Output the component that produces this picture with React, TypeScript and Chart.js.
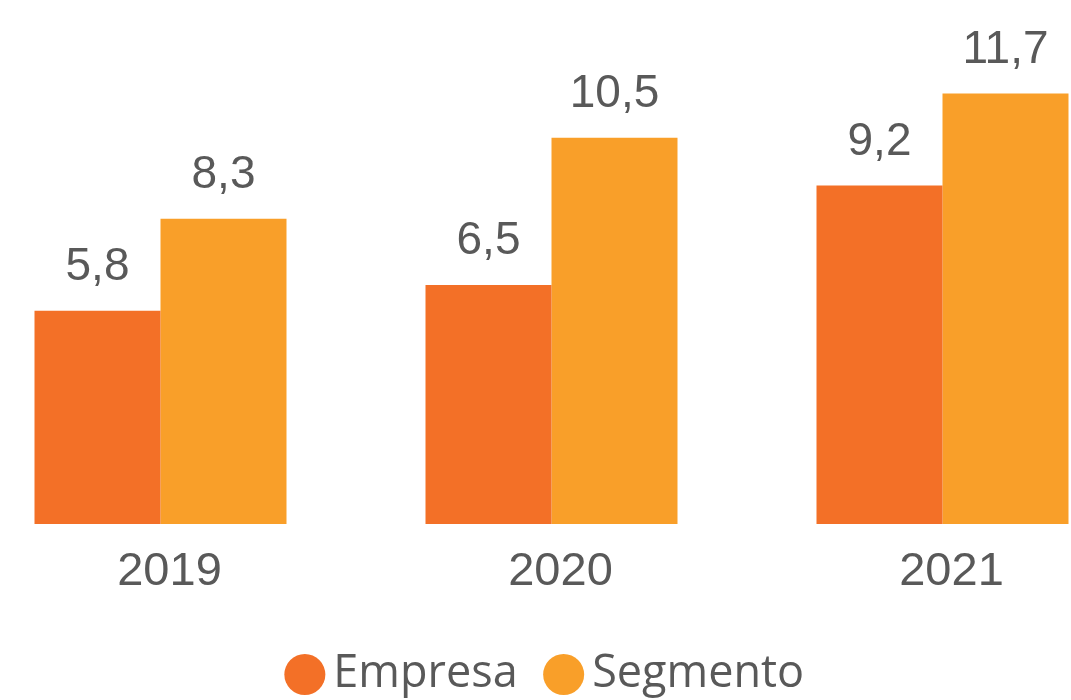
import React, { useEffect, useRef } from "react";
import { Chart, registerables } from "chart.js";

Chart.register(...registerables);

const categories = ["2019", "2020", "2021"];
const empresa = [5.8, 6.5, 9.2];
const segmento = [8.3, 10.5, 11.7];
const seriesNames = ["Empresa", "Segmento"];
const colors = ["#F37027", "#F99F29"];

const fmt = (v: number) => v.toFixed(1).replace(".", ",");

const labelPlugin = {
  id: "barLabels",
  afterDatasetsDraw(chart: any) {
    const ctx = chart.ctx;
    ctx.save();
    ctx.font = "46px 'Liberation Sans', Arial, sans-serif";
    ctx.fillStyle = "#595959";
    ctx.textAlign = "center";
    ctx.textBaseline = "alphabetic";
    chart.data.datasets.forEach((ds: any, i: number) => {
      const meta = chart.getDatasetMeta(i);
      meta.data.forEach((bar: any, j: number) => {
        ctx.fillText(fmt(ds.data[j]), bar.x, bar.y - 31);
      });
    });
    ctx.restore();
  },
};

export default function App() {
  const ref = useRef<HTMLCanvasElement>(null);
  useEffect(() => {
    if (!ref.current) return;
    const chart = new Chart(ref.current, {
      type: "bar",
      data: {
        labels: categories,
        datasets: [
          { label: seriesNames[0], data: empresa, backgroundColor: colors[0] },
          { label: seriesNames[1], data: segmento, backgroundColor: colors[1] },
        ],
      },
      options: {
        animation: false,
        responsive: true,
        maintainAspectRatio: false,
        layout: { padding: { top: 9, left: 0, right: 0, bottom: 0 } },
        datasets: { bar: { categoryPercentage: 0.6445, barPercentage: 1 } },
        scales: {
          x: {
            grid: { display: false, drawTicks: false },
            border: { display: false },
            ticks: {
              padding: 20,
              labelOffset: 9,
              color: "#595959",
              font: { family: "'Liberation Sans', Arial, sans-serif", size: 47 },
            },
            afterFit: (axis: any) => {
              axis.height = 88;
            },
          },
          y: { display: false, min: 0, max: 14 },
        },
        plugins: {
          tooltip: { enabled: false },
          legend: {
            position: "bottom",
            labels: {
              usePointStyle: true,
              pointStyle: "circle",
              boxWidth: 12,
              boxHeight: 29,
              padding: 40,
              color: "#595959",
              font: { family: "'Open Sans', 'Noto Sans', sans-serif", size: 45 },
            },
          },
        },
      },
      plugins: [labelPlugin],
    });
    return () => chart.destroy();
  }, []);

  return (
    <div
      style={{
        position: "fixed",
        left: 0,
        top: 0,
        width: 1071,
        height: 700,
        overflow: "hidden",
        background: "#ffffff",
      }}
    >
      <div style={{ position: "absolute", left: -35.5, top: 0, width: 1173, height: 707 }}>
        <canvas ref={ref} />
      </div>
    </div>
  );
}
